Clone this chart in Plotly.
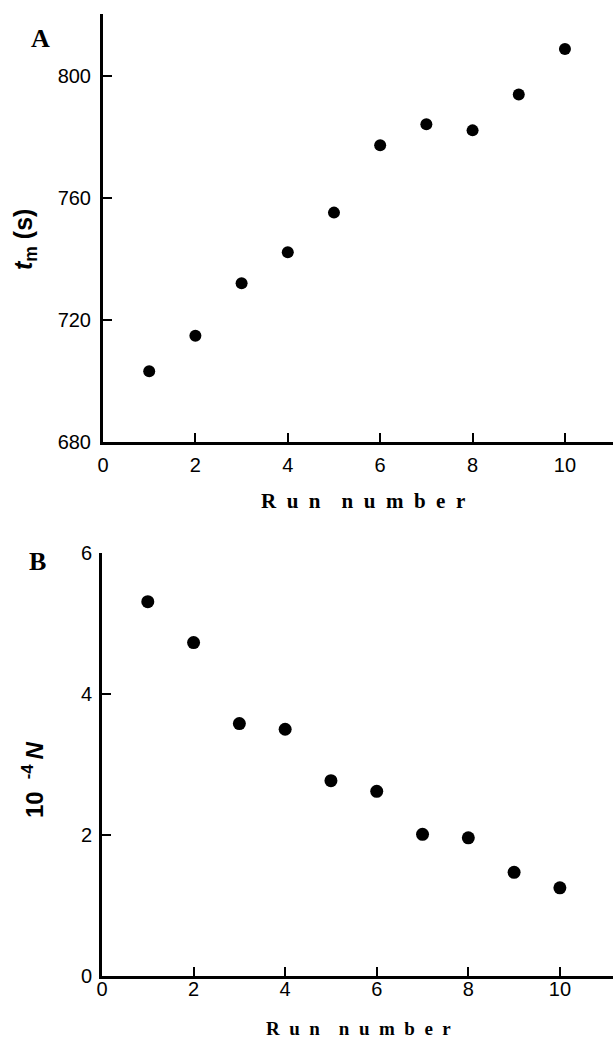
import plotly.graph_objects as go

run_a = [1, 2, 3, 4, 5, 6, 7, 8, 9, 10]
tm_s = [703.2, 714.9, 732.1, 742.3, 755.3, 777.4, 784.3, 782.3, 794.1, 809.0]

run_b = [1, 2, 3, 4, 5, 6, 7, 8, 9, 10]
n_scaled = [5.31, 4.73, 3.58, 3.50, 2.77, 2.62, 2.01, 1.96, 1.47, 1.25]

x_ticks = [0, 2, 4, 6, 8, 10]
ya_ticks = [680, 720, 760, 800]
yb_ticks = [0, 2, 4, 6]

W, H = 613, 1045

def fx(x):
    return x / W

def fy(y):
    return 1 - y / H

fig = go.Figure()
fig.add_trace(go.Scatter(x=run_a, y=tm_s, mode="markers", xaxis="x", yaxis="y",
                         marker=dict(color="black", size=12, symbol="circle"),
                         showlegend=False))
fig.add_trace(go.Scatter(x=run_b, y=n_scaled, mode="markers", xaxis="x2", yaxis="y2",
                         marker=dict(color="black", size=13, symbol="circle"),
                         showlegend=False))

tickfont = dict(family="Liberation Sans, Arial", size=20, color="black")
common_x = dict(showline=True, linewidth=3, linecolor="black", ticks="inside",
                ticklen=9, tickwidth=2, tickcolor="black", tickvals=x_ticks,
                showgrid=False, zeroline=False, tickfont=tickfont, automargin=False)
common_y = dict(showline=True, linewidth=3, linecolor="black", ticks="inside",
                ticklen=9, tickwidth=2, tickcolor="black",
                showgrid=False, zeroline=False, tickfont=tickfont, automargin=False)

fig.update_layout(
    width=W, height=H,
    margin=dict(l=0, r=0, t=0, b=0, pad=0, autoexpand=False),
    paper_bgcolor="white", plot_bgcolor="white",
    xaxis=dict(domain=[fx(103), 1.0], range=[0, 11.04], anchor="y",
               ticklabelstandoff=3, **common_x),
    yaxis=dict(domain=[fy(442), fy(14)], range=[680, 820.5], anchor="x",
               tickvals=ya_ticks, ticklabelstandoff=5, **common_y),
    xaxis2=dict(domain=[fx(102), 1.0], range=[0, 11.16], anchor="y2",
                ticklabelstandoff=-7, **common_x),
    yaxis2=dict(domain=[fy(976), fy(553)], range=[0, 6], anchor="x2",
                tickvals=yb_ticks, ticklabelstandoff=3, **common_y),
)

serif = "Liberation Serif, Times New Roman"
sans = "Liberation Sans, Arial"

gap = "\u00a0\u00a0"
wgap = "\u00a0\u00a0\u00a0\u00a0"
run_label = "<b>" + gap.join("Run") + wgap + gap.join("number") + "</b>"

annos = [
    (40, 38, "<b>A</b>", serif, 26, 0),
    (37, 561, "<b>B</b>", serif, 26, 0),
    (363, 501, run_label, serif, 21, 0),
    (358, 1028, run_label, serif, 19, 0),
    (25, 240, "<b><i>t</i><sub>m</sub> (s)</b>", sans, 25, -90),
    (33, 780, "<b>10\u2002<sup>-4</sup>\u2009<i>N</i></b>", sans, 24, -90),
]
for x, y, t, fam, sz, ang in annos:
    fig.add_annotation(x=fx(x), y=fy(y), xref="paper", yref="paper", text=t, showarrow=False,
                       xanchor="center", yanchor="middle", textangle=ang,
                       font=dict(family=fam, size=sz, color="black"))

fig.write_html("out.html",
               config={"displayModeBar": False},
               post_script="document.body.style.margin='0';"
                           "document.body.style.overflow='hidden';")
